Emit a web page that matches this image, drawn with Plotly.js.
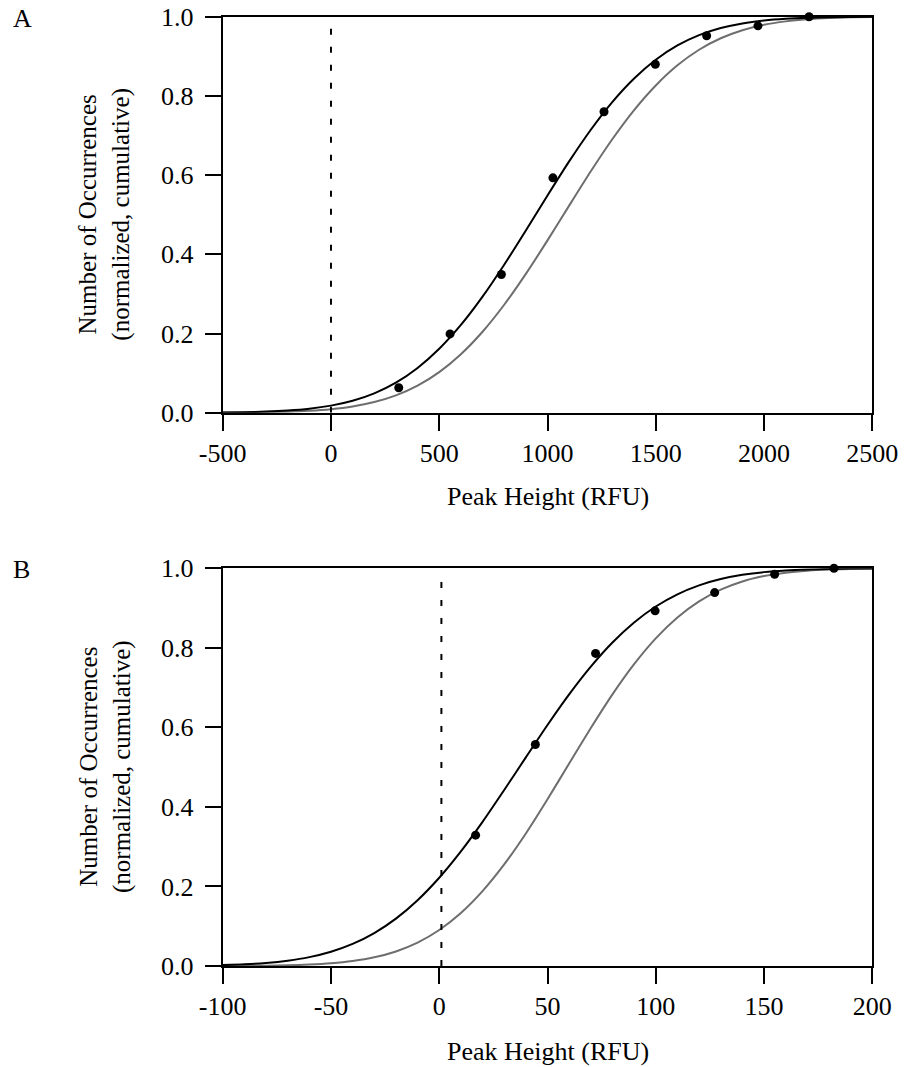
<!DOCTYPE html>
<html>
<head>
<meta charset="utf-8">
<script src="https://cdn.plot.ly/plotly-3.0.1.min.js"></script>
<style>html,body{margin:0;padding:0;background:#fff;}#chart{width:904px;height:1067px;}</style>
</head>
<body>
<div id="chart"></div>
<script>
// ---------- Panel A data ----------
const aPointX = [313, 550, 787, 1025, 1261, 1498, 1735, 1972, 2208];
const aPointY = [0.063, 0.199, 0.349, 0.593, 0.760, 0.880, 0.952, 0.977, 1.000];
const aCurveX = [-500,-400,-300,-200,-100,0,100,200,300,400,500,600,700,800,900,1000,1100,1200,1300,1400,1500,1600,1700,1800,1900,2000,2100,2200,2300,2400,2500];
const aBlackY = [0.0007,0.0014,0.0028,0.0055,0.0101,0.0179,0.0302,0.0489,0.0759,0.1130,0.1614,0.2216,0.2931,0.3737,0.4602,0.5486,0.6347,0.7146,0.7850,0.8440,0.8913,0.9273,0.9533,0.9713,0.9831,0.9905,0.9949,0.9974,0.9987,0.9994,0.9997];
const aGrayY  = [0.0003,0.0006,0.0012,0.0025,0.0048,0.0089,0.0158,0.0269,0.0438,0.0684,0.1026,0.1478,0.2045,0.2726,0.3505,0.4352,0.5229,0.6096,0.6911,0.7642,0.8264,0.8772,0.9165,0.9455,0.9659,0.9795,0.9882,0.9935,0.9966,0.9983,0.9992];
const aTickVals = [-500, 0, 500, 1000, 1500, 2000, 2500];
const aTickText = ['-500', '0', '500', '1000', '1500', '2000', '2500'];
const aDashX = 0;

// ---------- Panel B data ----------
const bPointX = [16.8, 44.4, 72.2, 99.7, 127.2, 154.9, 182.3];
const bPointY = [0.329, 0.557, 0.786, 0.893, 0.939, 0.985, 1.000];
const bCurveX = [-100,-90,-80,-70,-60,-50,-40,-30,-20,-10,0,10,20,30,40,50,60,70,80,90,100,110,120,130,140,150,160,170,180,190,200];
const bBlackY = [0.0023,0.0043,0.0077,0.0134,0.0223,0.0358,0.0555,0.0827,0.1190,0.1653,0.2218,0.2881,0.3624,0.4424,0.5247,0.6061,0.6830,0.7527,0.8133,0.8637,0.9039,0.9346,0.9571,0.9729,0.9835,0.9904,0.9946,0.9971,0.9985,0.9992,0.9996];
const bGrayY  = [0.0002,0.0004,0.0008,0.0017,0.0035,0.0067,0.0124,0.0218,0.0366,0.0588,0.0905,0.1333,0.1883,0.2553,0.3332,0.4192,0.5092,0.5983,0.6830,0.7590,0.8238,0.8762,0.9167,0.9463,0.9669,0.9804,0.9890,0.9941,0.9970,0.9985,0.9993];
const bTickVals = [-100, -50, 0, 50, 100, 150, 200];
const bTickText = ['-100', '-50', '0', '50', '100', '150', '200'];
const bDashX = 1;

// ---------- shared ----------
const yTickVals = [0, 0.2, 0.4, 0.6, 0.8, 1.0];
const yTickText = ['0.0', '0.2', '0.4', '0.6', '0.8', '1.0'];
const xTitle = 'Peak Height (RFU)';
const yTitle = 'Number of Occurrences<br>(normalized, cumulative)';
const panelLabels = ['A', 'B'];

const FONT = '"Liberation Serif"';
const GRAY = '#6e6e6e';

function curve(x, y, color, xa, ya) {
  return {x: x, y: y, xaxis: xa, yaxis: ya, type: 'scatter', mode: 'lines',
    line: {color: color, width: 2, shape: 'spline', smoothing: 0.6}, hoverinfo: 'skip', showlegend: false};
}
function dots(x, y, xa, ya) {
  return {x: x, y: y, xaxis: xa, yaxis: ya, type: 'scatter', mode: 'markers',
    marker: {color: '#000', size: 9}, cliponaxis: false, showlegend: false};
}

const data = [
  curve(aCurveX, aGrayY, GRAY, 'x', 'y'),
  curve(aCurveX, aBlackY, '#000', 'x', 'y'),
  dots(aPointX, aPointY, 'x', 'y'),
  curve(bCurveX, bGrayY, GRAY, 'x2', 'y2'),
  curve(bCurveX, bBlackY, '#000', 'x2', 'y2'),
  dots(bPointX, bPointY, 'x2', 'y2')
];

const W = 904, H = 1067;
const xDom = [222.7 / W, 872.3 / W];
const aDom = [1 - 412.7 / H, 1 - 16.7 / H];
const bDom = [1 - 966 / H, 1 - 568.3 / H];

function xAxis(range, tv, tt, anchor) {
  return {domain: xDom, range: range, anchor: anchor, tickmode: 'array', tickvals: tv, ticktext: tt,
    ticks: 'outside', ticklen: 16, tickwidth: 2, tickcolor: '#000',
    showline: true, linewidth: 2, linecolor: '#000', mirror: true,
    showgrid: false, zeroline: false, fixedrange: true,
    tickfont: {family: FONT, size: 26, color: '#000'}};
}
function yAxis(dom, anchor) {
  return {domain: dom, range: [0, 1], anchor: anchor, tickmode: 'array', tickvals: yTickVals, ticktext: yTickText,
    ticks: 'outside', ticklen: 16, tickwidth: 2, tickcolor: '#000', ticklabelstandoff: 6,
    showline: true, linewidth: 2, linecolor: '#000', mirror: true,
    showgrid: false, zeroline: false, fixedrange: true,
    tickfont: {family: FONT, size: 26, color: '#000'}};
}

const layout = {
  width: W, height: H,
  margin: {l: 0, r: 0, t: 0, b: 0},
  paper_bgcolor: '#fff', plot_bgcolor: '#fff',
  font: {family: FONT, size: 26, color: '#000'},
  showlegend: false,
  xaxis: xAxis([-500, 2500], aTickVals, aTickText, 'y'),
  yaxis: yAxis(aDom, 'x'),
  xaxis2: xAxis([-100, 200], bTickVals, bTickText, 'y2'),
  yaxis2: yAxis(bDom, 'x2'),
  shapes: [
    {type: 'line', xref: 'x', yref: 'y', x0: aDashX, x1: aDashX, y0: 0, y1: 0.975,
     line: {color: '#000', width: 2, dash: '6px,12px'}},
    {type: 'line', xref: 'x2', yref: 'y2', x0: bDashX, x1: bDashX, y0: 0, y1: 0.975,
     line: {color: '#000', width: 2, dash: '6px,12px'}}
  ],
  annotations: [
    {text: panelLabels[0], xref: 'paper', yref: 'paper', x: 22 / W, y: 1 - 19 / H, xanchor: 'center', yanchor: 'middle',
     showarrow: false, font: {family: FONT, size: 26, color: '#000'}},
    {text: panelLabels[1], xref: 'paper', yref: 'paper', x: 21 / W, y: 1 - 569 / H, xanchor: 'center', yanchor: 'middle',
     showarrow: false, font: {family: FONT, size: 26, color: '#000'}},
    {text: xTitle, xref: 'paper', yref: 'paper', x: 547.5 / W, y: 1 - 496 / H, xanchor: 'center', yanchor: 'middle',
     showarrow: false, font: {family: FONT, size: 26, color: '#000'}},
    {text: xTitle, xref: 'paper', yref: 'paper', x: 547.5 / W, y: 1 - 1051 / H, xanchor: 'center', yanchor: 'middle',
     showarrow: false, font: {family: FONT, size: 26, color: '#000'}},
    {text: yTitle, xref: 'paper', yref: 'paper', x: 105 / W, y: 1 - 214.7 / H, xanchor: 'center', yanchor: 'middle',
     textangle: -90, showarrow: false, font: {family: FONT, size: 25, color: '#000'}},
    {text: yTitle, xref: 'paper', yref: 'paper', x: 105 / W, y: 1 - 767 / H, xanchor: 'center', yanchor: 'middle',
     textangle: -90, showarrow: false, font: {family: FONT, size: 25, color: '#000'}}
  ]
};

Plotly.newPlot('chart', data, layout, {displayModeBar: false, staticPlot: true});
</script>
</body>
</html>
